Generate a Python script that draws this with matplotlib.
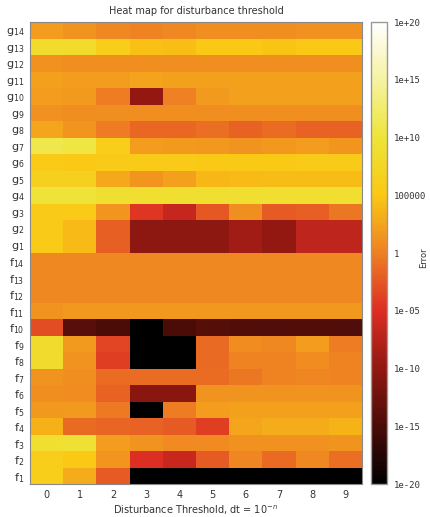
import numpy as np
import matplotlib
matplotlib.use("Agg")
import matplotlib.pyplot as plt
from matplotlib.colors import LinearSegmentedColormap, LogNorm

columns = [0, 1, 2, 3, 4, 5, 6, 7, 8, 9]
row_labels = ["$\\mathregular{f_{%d}}$" % i for i in range(1, 15)] + \
             ["$\\mathregular{g_{%d}}$" % i for i in range(1, 15)]

# log10 of the error, rows f1..f14 then g1..g14, columns n = 0..9
f_exp = [
    [6.0, 3.0, -2.3, -20, -20, -20, -20, -20, -20, -20],          # f1
    [6.0, 5.3, 1.5, -5.0, -6.3, -2.3, 0.4, -1.3, 0.6, -1.0],      # f2
    [9.0, 9.5, 2.0, 1.3, 0.7, 0.7, 1.2, 1.2, 1.2, 1.3],           # f3
    [3.3, -1.3, -1.7, -1.8, -2.2, -4.0, 2.5, 3.0, 3.0, 3.5],      # f4
    [1.7, 1.8, -0.4, -20, -0.3, 2.0, 2.3, 2.3, 2.3, 2.3],         # f5
    [1.0, 0.8, -1.8, -10.5, -10.5, 1.4, 1.4, 1.4, 1.4, 1.4],      # f6
    [1.4, 1.0, -1.2, -1.2, -1.2, -1.2, -0.5, 0.3, 0.4, 0.3],      # f7
    [8.5, 1.3, -4.0, -20, -20, -1.3, 0.3, 0.3, 0.8, 0.3],         # f8
    [8.5, 1.8, -3.5, -20, -20, -1.3, 0.8, 0.5, 2.0, -0.2],        # f9
    [-3.0, -14.0, -15.0, -20, -15.0, -14.2, -14.4, -14.6, -14.4, -14.6],  # f10
    [1.4, 1.6, 1.6, 1.6, 1.7, 1.6, 1.6, 1.7, 1.6, 1.6],           # f11
    [0.6, 0.6, 0.6, 0.6, 0.6, 0.6, 0.6, 0.6, 0.6, 0.6],           # f12
    [0.6, 0.6, 0.6, 0.6, 0.6, 0.6, 0.6, 0.6, 0.6, 0.6],           # f13
    [0.6, 0.6, 0.6, 0.6, 0.6, 0.6, 0.6, 0.6, 0.6, 0.6],           # f14
]
g_exp = [
    [5.5, 4.0, -2.0, -10.3, -10.3, -10.3, -9.0, -10.0, -7.0, -7.0],  # g1
    [5.5, 4.0, -2.0, -10.3, -10.3, -10.3, -9.0, -10.0, -7.0, -7.0],  # g2
    [5.5, 5.5, 1.5, -4.5, -6.5, -2.5, 1.0, -2.3, -2.0, -0.5],       # g3
    [10.0, 10.0, 9.0, 9.0, 9.0, 9.0, 9.0, 9.0, 9.0, 9.0],           # g4
    [6.5, 6.5, 2.8, 1.5, 2.3, 3.8, 4.0, 4.2, 4.2, 4.2],             # g5
    [5.5, 5.3, 5.5, 5.5, 5.5, 5.0, 5.0, 5.3, 5.5, 5.5],             # g6
    [11.0, 10.5, 6.0, 2.0, 1.8, 1.7, 1.3, 1.7, 2.0, 1.5],           # g7
    [2.5, 1.5, -0.3, -1.5, -1.5, -1.0, -1.8, -1.2, -1.8, -1.8],     # g8
    [1.2, 1.0, 1.0, 1.0, 1.0, 1.0, 1.0, 1.0, 1.0, 1.0],             # g9
    [2.0, 1.8, -0.3, -10.0, 0.0, 1.8, 2.2, 2.2, 2.2, 2.2],          # g10
    [2.2, 2.0, 2.0, 2.4, 2.2, 2.2, 2.2, 2.2, 2.2, 2.2],             # g11
    [1.2, 1.0, 1.0, 1.0, 1.0, 1.0, 1.0, 1.0, 1.0, 1.0],             # g12
    [8.5, 8.5, 6.0, 4.5, 4.3, 5.0, 5.0, 4.7, 5.0, 5.0],             # g13
    [2.0, 1.3, 0.5, 0.3, 0.5, 1.0, 1.0, 1.0, 1.2, 1.2],             # g14
]
cbar_ticks = [1e-20, 1e-15, 1e-10, 1e-5, 1, 1e5, 1e10, 1e15, 1e20]
cbar_ticklabels = ["1e-20", "1e-15", "1e-10", "1e-05", "1", "100000", "1e+10", "1e+15", "1e+20"]

errors = 10.0 ** np.array(f_exp + g_exp)

anchors = [
    (0.0, (0, 0, 0)),
    (0.125, (75, 12, 8)),
    (0.25, (145, 24, 17)),
    (0.375, (220, 45, 35)),
    (0.5, (238, 128, 35)),
    (0.625, (250, 200, 20)),
    (0.75, (238, 228, 55)),
    (0.875, (246, 242, 160)),
    (1.0, (255, 255, 255)),
]
cmap = LinearSegmentedColormap.from_list(
    "err", [(p, tuple(c / 255 for c in col)) for p, col in anchors])
norm = LogNorm(vmin=1e-20, vmax=1e20)

fig = plt.figure(figsize=(4.31, 5.17), dpi=100)
ax = fig.add_axes([30 / 431, 1 - 484 / 517, 332 / 431, 462 / 517])
mesh = ax.pcolormesh(np.arange(len(columns) + 1) - 0.5,
                     np.arange(len(row_labels) + 1) - 0.5,
                     errors, cmap=cmap, norm=norm)
ax.set_xlim(-0.5, len(columns) - 0.5)
ax.set_ylim(-0.5, len(row_labels) - 0.5)
ax.set_xticks(range(len(columns)))
ax.set_xticklabels([str(c) for c in columns], fontsize=7, color="#333333")
ax.set_yticks(range(len(row_labels)))
ax.set_yticklabels(row_labels, fontsize=8, color="#333333")
ax.tick_params(length=0, pad=4)
for s in ax.spines.values():
    s.set_color("#888888")
    s.set_linewidth(0.8)
ax.set_title("Heat map for disturbance threshold", fontsize=7, color="#333333", pad=6)
ax.set_xlabel("Disturbance Threshold, dt = 10$^{-n}$", fontsize=7, color="#333333", labelpad=3)

cax = fig.add_axes([371 / 431, 1 - 484 / 517, 16 / 431, 462 / 517])
cb = fig.colorbar(mesh, cax=cax)
cb.set_ticks(cbar_ticks)
cb.set_ticklabels(cbar_ticklabels)
cb.minorticks_off()
cax.tick_params(length=0, pad=5, labelsize=6.5, labelcolor="#333333")
for t in cax.get_yticklabels():
    t.set_family("DejaVu Sans Mono")
cb.outline.set_edgecolor("#999999")
cb.outline.set_linewidth(1.0)
fig.text(424 / 431, 1 - 258 / 517, "Error", rotation=90, fontsize=6,
         ha="center", va="center", color="#333333")

fig.savefig("out.png", dpi=100)
